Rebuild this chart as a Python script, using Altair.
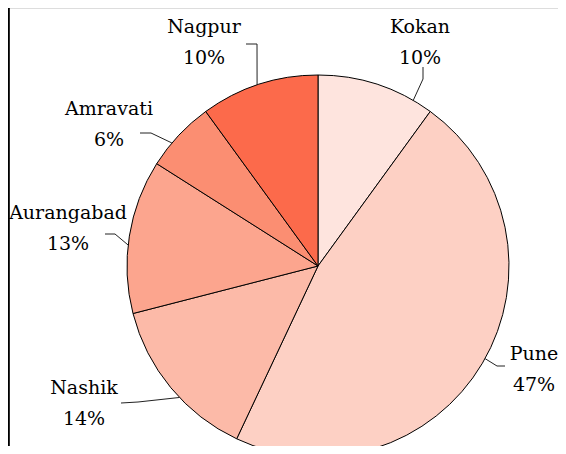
import math
import altair as alt
import pandas as pd

# ---- data ----
regions = ["Kokan", "Pune", "Nashik", "Aurangabad", "Amravati", "Nagpur"]
shares = [10, 47, 14, 13, 6, 10]
colors = ["#fee4de", "#fdd0c4", "#fcbaa8", "#fca58e", "#fb8e72", "#fc6a4b"]

# ---- layout (annotation placement, in view pixels) ----
W, H = 550, 438
CX, CY, R = 310, 258, 191
label_pos = {  # centre of the name line; the percent line sits 31px lower
    "Kokan": (412, 19), "Pune": (526, 346), "Nashik": (76, 380),
    "Aurangabad": (60, 205), "Amravati": (101, 101), "Nagpur": (196, 19),
}
attach_nudge = {"Kokan": 11.9, "Pune": -1.6, "Nashik": -3.9,
                "Aurangabad": -2.7, "Amravati": -3.1, "Nagpur": -0.6}
leader_tail = {  # elbow and end points of the leader lines
    "Kokan": [(415, 71), (415, 59)],
    "Pune": [(489, 358), (497, 358)],
    "Nashik": [(130, 394), (113, 395)],
    "Aurangabad": [(107, 226), (97, 226)],
    "Amravati": [(143, 125), (132, 125)],
    "Nagpur": [(249, 36), (238, 36)],
}

total = sum(shares)
pie = pd.DataFrame({"region": regions, "share": shares, "order": range(len(regions))})

lab_rows, line_rows = [], []
cum = 0
for reg, s in zip(regions, shares):
    mid = (cum + s / 2) / total * 360
    cum += s
    lx, ly = label_pos[reg]
    lab_rows.append({"region": reg, "name": reg, "pct": f"{round(s / total * 100)}%",
                     "x": lx, "y": ly, "y2": ly + 31})
    a = math.radians(mid + attach_nudge[reg])
    pts = [(CX + R * math.sin(a), CY - R * math.cos(a))] + leader_tail[reg]
    for i, (px, py) in enumerate(pts):
        line_rows.append({"region": reg, "i": i, "x": px, "y": py})
labels = pd.DataFrame(lab_rows)
leaders = pd.DataFrame(line_rows)

xs = alt.Scale(domain=[0, W], range=[0, W])
ys = alt.Scale(domain=[H, 0])
FONT = "DejaVu Serif"
FS = 19

arcs = alt.Chart(pie).mark_arc(radius=R, stroke="#000000", strokeWidth=1).encode(
    theta=alt.Theta("share:Q", stack=True),
    order=alt.Order("order:Q"),
    color=alt.Color("region:N", scale=alt.Scale(domain=regions, range=colors), legend=None),
    x=alt.value(CX), y=alt.value(CY),
)

lines = alt.Chart(leaders).mark_line(color="#222222", strokeWidth=1).encode(
    x=alt.X("x:Q", scale=xs, axis=None),
    y=alt.Y("y:Q", scale=ys, axis=None),
    detail="region:N",
    order="i:Q",
)

names = alt.Chart(labels).mark_text(font=FONT, fontSize=FS, baseline="middle", color="#000000").encode(
    x=alt.X("x:Q", scale=xs, axis=None), y=alt.Y("y:Q", scale=ys, axis=None), text="name:N")
pcts = alt.Chart(labels).mark_text(font=FONT, fontSize=FS, baseline="middle", color="#000000").encode(
    x=alt.X("x:Q", scale=xs, axis=None), y=alt.Y("y2:Q", scale=ys, axis=None), text="pct:N")

frame = alt.Chart(pie).mark_rule(color="#000000", strokeWidth=1.5).encode(
    x=alt.value(0.5), y=alt.value(0), y2=alt.value(H))

chart = alt.layer(arcs, lines, names, pcts, frame).properties(
    width=W, height=H, autosize=alt.AutoSizeParams(type="none"), padding=0
).configure_view(stroke=None, strokeWidth=0).configure(background="#ffffff")

chart.save("out.html", embed_options={"renderer": "svg", "actions": False})
